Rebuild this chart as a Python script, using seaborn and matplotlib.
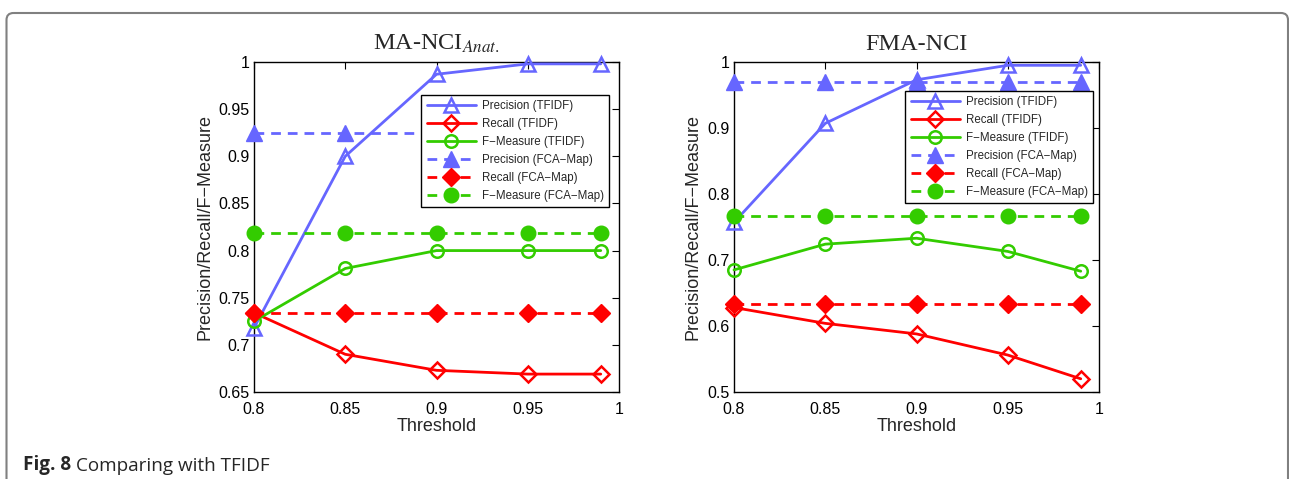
import matplotlib
matplotlib.use("Agg")
import matplotlib.pyplot as plt
import seaborn as sns
import pandas as pd
from matplotlib.patches import FancyBboxPatch

# ---------------- data ----------------
thresholds = [0.80, 0.85, 0.90, 0.95, 0.99]

ma_prec_tfidf = [0.718, 0.900, 0.987, 0.998, 0.998]
ma_rec_tfidf = [0.734, 0.690, 0.673, 0.669, 0.669]
ma_f_tfidf = [0.725, 0.781, 0.800, 0.800, 0.800]
ma_prec_fca = [0.925, 0.925, 0.925, 0.925, 0.925]
ma_rec_fca = [0.734, 0.734, 0.734, 0.734, 0.734]
ma_f_fca = [0.819, 0.819, 0.819, 0.819, 0.819]

fma_prec_tfidf = [0.757, 0.907, 0.973, 0.995, 0.995]
fma_rec_tfidf = [0.628, 0.604, 0.588, 0.556, 0.520]
fma_f_tfidf = [0.685, 0.724, 0.733, 0.713, 0.683]
fma_prec_fca = [0.970, 0.970, 0.970, 0.970, 0.970]
fma_rec_fca = [0.634, 0.634, 0.634, 0.634, 0.634]
fma_f_fca = [0.767, 0.767, 0.767, 0.767, 0.767]

series_labels = ["Precision (TFIDF)", "Recall (TFIDF)", "F\u2212Measure (TFIDF)",
                 "Precision (FCA\u2212Map)", "Recall (FCA\u2212Map)", "F\u2212Measure (FCA\u2212Map)"]

ma_yticks = [0.65, 0.7, 0.75, 0.8, 0.85, 0.9, 0.95, 1]
ma_yticklabels = ["0.65", "0.7", "0.75", "0.8", "0.85", "0.9", "0.95", "1"]
fma_yticks = [0.5, 0.6, 0.7, 0.8, 0.9, 1]
fma_yticklabels = ["0.5", "0.6", "0.7", "0.8", "0.9", "1"]
xticks = [0.8, 0.85, 0.9, 0.95, 1]
xticklabels = ["0.8", "0.85", "0.9", "0.95", "1"]

# ---------------- style ----------------
sns.set_style("white")
plt.rcParams["font.family"] = ["Liberation Sans", "DejaVu Sans"]
plt.rcParams["mathtext.fontset"] = "stix"

BLUE = "#6666ff"
RED = "#ff0000"
GREEN = "#33cc00"

fig = plt.figure(figsize=(12.89, 4.79), dpi=100)

# frame around figure
bg = fig.add_axes([0, 0, 1, 1])
bg.set_xlim(0, 1289)
bg.set_ylim(479, 0)
bg.axis("off")
bg.add_patch(FancyBboxPatch((6.5, 13), 1281.5, 480, boxstyle="round,pad=0,rounding_size=7",
                            fill=False, edgecolor="#808080", linewidth=1.5))
cap1 = bg.text(23, 470, "Fig. 8", fontsize=13.6, fontweight="bold",
               family=["Open Sans", "DejaVu Sans"], va="baseline", ha="left")
bg.annotate("Comparing with TFIDF", xy=(1, 0), xycoords=cap1,
            xytext=(3.5, 0), textcoords="offset points", fontsize=13.6,
            family=["Open Sans", "DejaVu Sans"], va="bottom", ha="left")


def draw(ax, data, yticks, yticklabels, ylim, title, legend_anchor):
    dash = (0, (3.5, 2.5))
    styles = [
        dict(color=BLUE, marker="^", ms=10.5, mfc="none", mew=1.8, ls="-"),
        dict(color=RED, marker="D", ms=8.5, mfc="none", mew=1.8, ls="-"),
        dict(color=GREEN, marker="o", ms=9, mfc="none", mew=1.8, ls="-"),
        dict(color=BLUE, marker="^", ms=11.5, mfc=BLUE, mew=1, ls=dash),
        dict(color=RED, marker="D", ms=9.5, mfc=RED, mew=1, ls=dash),
        dict(color=GREEN, marker="o", ms=10.5, mfc=GREEN, mew=1, ls=dash),
    ]
    for vals, lab, st in zip(data, series_labels, styles):
        df = pd.DataFrame({"Threshold": thresholds, "value": vals})
        sns.lineplot(data=df, x="Threshold", y="value", ax=ax, label=lab,
                     color=st["color"], marker=st["marker"], markersize=st["ms"],
                     markerfacecolor=st["mfc"], markeredgecolor=st["color"],
                     markeredgewidth=st["mew"], linestyle=st["ls"], linewidth=2.0,
                     clip_on=False, zorder=3)
    ax.set_xlim(0.8, 1.0)
    ax.set_ylim(*ylim)
    ax.set_xticks(xticks)
    ax.set_xticklabels(xticklabels)
    ax.set_yticks(yticks)
    ax.set_yticklabels(yticklabels)
    ax.tick_params(direction="in", length=5, width=0.8, top=True, right=True,
                   labelsize=11.5, colors="black")
    ax.tick_params(axis="x", pad=7)
    ax.tick_params(axis="y", pad=3)
    for s in ax.spines.values():
        s.set_visible(True)
        s.set_color("black")
        s.set_linewidth(1.0)
    ax.set_xlabel("Threshold", fontsize=13, labelpad=1)
    ax.set_ylabel("Precision/Recall/F\u2212Measure", fontsize=13, labelpad=4)
    ax.set_title(title, fontsize=17.5, family=["Liberation Serif", "DejaVu Serif"], pad=9)
    leg = ax.legend(loc="upper right", bbox_to_anchor=legend_anchor, borderaxespad=0,
                    fontsize=8.3, handlelength=4.3, labelspacing=0.52, frameon=True,
                    fancybox=False, framealpha=1, borderpad=0.45, handletextpad=0.5)
    leg.get_frame().set_edgecolor("black")
    leg.get_frame().set_linewidth(1.0)
    leg.set_zorder(5)


ax1 = fig.add_axes([254 / 1289, 87 / 479, 365 / 1289, 330 / 479])
draw(ax1, [ma_prec_tfidf, ma_rec_tfidf, ma_f_tfidf, ma_prec_fca, ma_rec_fca, ma_f_fca],
     ma_yticks, ma_yticklabels, (0.65, 1.0), r"MA-NCI$_{\mathit{Anat.}}$", (0.973, 0.9))

ax2 = fig.add_axes([734 / 1289, 87 / 479, 365 / 1289, 330 / 479])
draw(ax2, [fma_prec_tfidf, fma_rec_tfidf, fma_f_tfidf, fma_prec_fca, fma_rec_fca, fma_f_fca],
     fma_yticks, fma_yticklabels, (0.5, 1.0), "FMA-NCI", (0.984, 0.912))

fig.savefig("out.png", dpi=100)
